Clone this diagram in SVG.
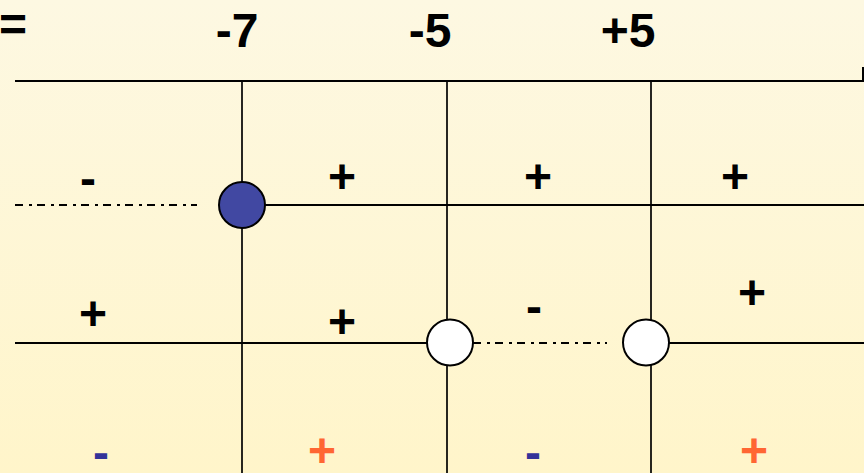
<svg xmlns="http://www.w3.org/2000/svg" width="864" height="473" viewBox="0 0 864 473">
<defs>
<linearGradient id="bg" x1="0" y1="0" x2="0" y2="1">
<stop offset="0" stop-color="#FDF8E2"/>
<stop offset="1" stop-color="#FFF5CA"/>
</linearGradient>
</defs>
<style>
.ln{stroke:#000;stroke-width:2;fill:none}
.vl{stroke:#000;stroke-width:1.7;fill:none}
.dd{stroke:#000;stroke-width:2;fill:none;stroke-dasharray:8,6,3,5}
.t{font-family:"Liberation Sans",Arial,sans-serif;font-weight:bold;font-size:48px;fill:#000;text-anchor:middle}
.bl{fill:#333399}
.or{fill:#FF6633}
.open{fill:#fff;stroke:#000;stroke-width:2}
.full{fill:#4148A2;stroke:#000;stroke-width:2}
</style>
<rect width="864" height="473" fill="url(#bg)"/>
<g id="header">
<text class="t" x="-1" y="41" style="text-anchor:start">=</text>
<text class="t" x="237" y="47">-7</text>
<text class="t" x="430" y="47">-5</text>
<text class="t" x="628" y="47">+5</text>
</g>
<g id="connectors">
<line class="ln" x1="15" y1="81" x2="864" y2="81"/>
<line class="ln" x1="863" y1="67" x2="863" y2="82"/>
<line class="vl" x1="242" y1="81" x2="242" y2="473"/>
<line class="vl" x1="447" y1="81" x2="447" y2="473"/>
<line class="vl" x1="651" y1="81" x2="651" y2="473"/>
<line class="dd" x1="15" y1="205" x2="197" y2="205"/>
<line class="ln" x1="265" y1="205" x2="864" y2="205"/>
<line class="ln" x1="15" y1="343" x2="427" y2="343"/>
<line class="dd" x1="473" y1="343" x2="607" y2="343"/>
<line class="ln" x1="669" y1="343" x2="864" y2="343"/>
</g>
<g id="node-m7"><circle class="full" cx="242" cy="205" r="23"/></g>
<g id="node-m5"><circle class="open" cx="450" cy="342.5" r="23"/></g>
<g id="node-p5"><circle class="open" cx="646" cy="342.5" r="23"/></g>
<g id="signs">
<text class="t" x="88" y="195">-</text>
<text class="t" x="342" y="193">+</text>
<text class="t" x="538" y="193">+</text>
<text class="t" x="735" y="193">+</text>
<text class="t" x="93" y="330">+</text>
<text class="t" x="342" y="338">+</text>
<text class="t" x="534" y="323">-</text>
<text class="t" x="752" y="309">+</text>
<text class="t bl" x="101" y="469">-</text>
<text class="t or" x="322" y="467">+</text>
<text class="t bl" x="533" y="469">-</text>
<text class="t or" x="754" y="467">+</text>
</g>
</svg>
